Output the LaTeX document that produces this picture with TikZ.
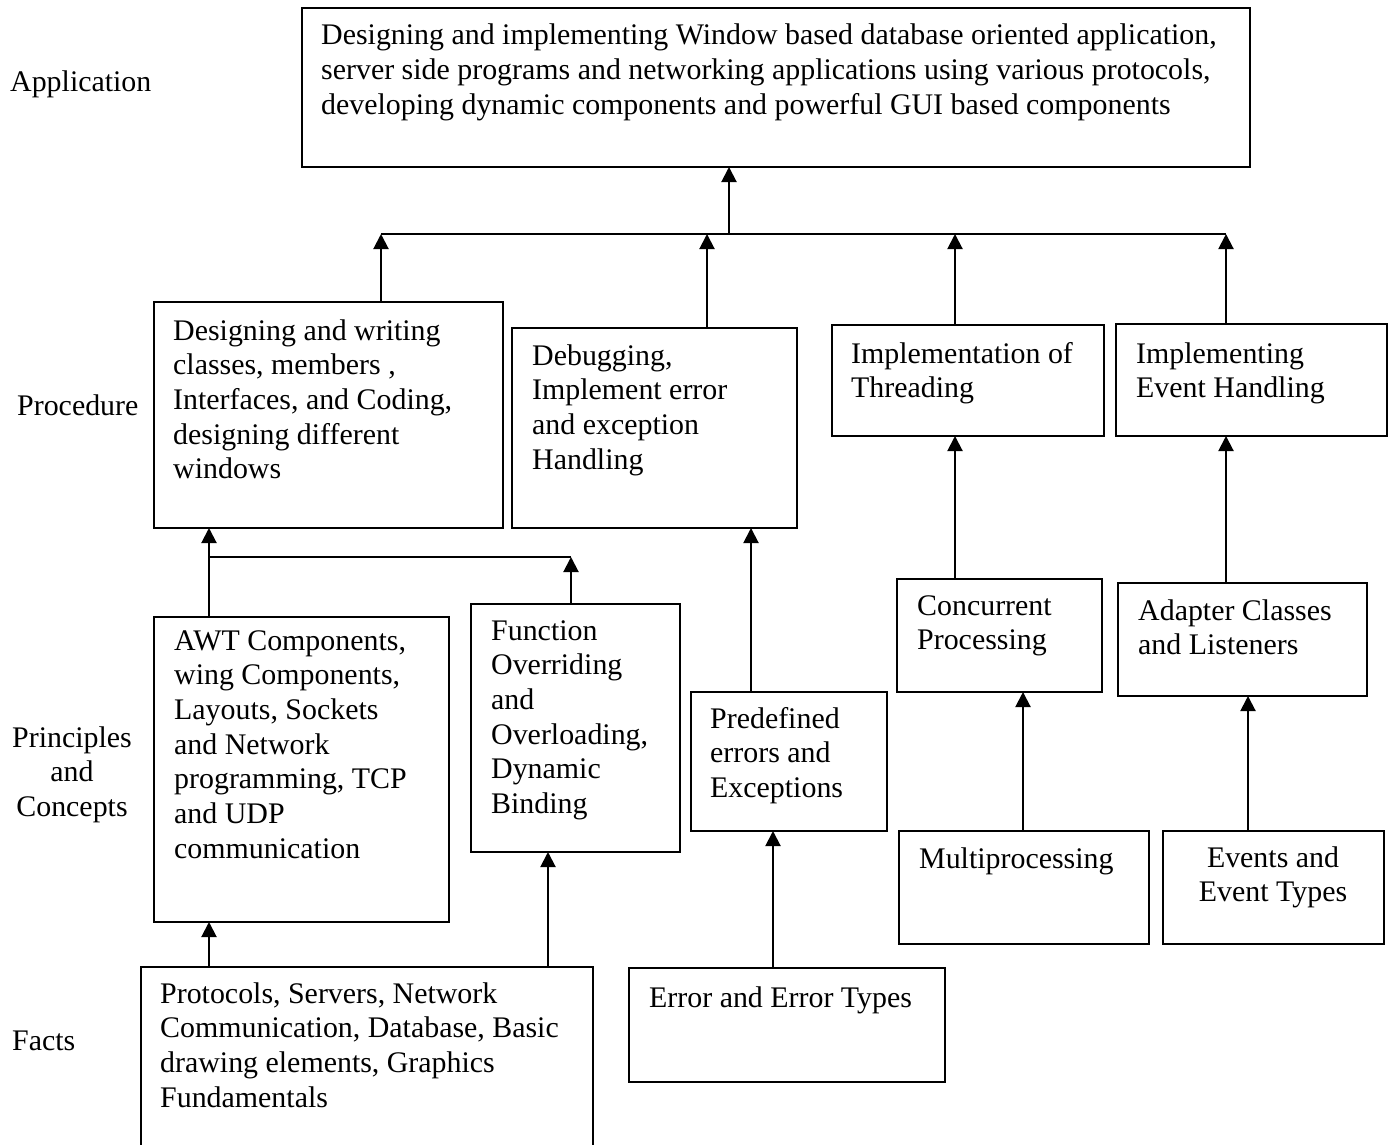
\documentclass[tikz,border=0pt]{standalone}
\usepackage{fontspec}
\setmainfont{Liberation Serif}
\usetikzlibrary{arrows.meta}
\newcommand\mkbox[5]{\node[bx, minimum width={#4-#2}, minimum height={#5-#3}] (#1) at ({(#2+#4)/2},{(#3+#5)/2}) {};}
\newcommand\lns[1]{\begin{tabular}[t]{@{}l@{}}#1\end{tabular}}
\newcommand\clns[1]{\begin{tabular}[t]{@{}c@{}}#1\end{tabular}}
\begin{document}
\begin{tikzpicture}[x=1pt,y=-1pt,
  bx/.style={draw, line width=2pt, inner sep=0pt, outer sep=0pt},
  txt/.style={anchor=base west, inner sep=0pt, font=\fontsize{29.9}{34.7}\selectfont},
  ctxt/.style={txt, anchor=base},
  ln/.style={line width=2pt},
  arr/.style={line width=2pt, -{Triangle[width=15pt,length=15pt]}}]
\useasboundingbox (0,0) rectangle (1392,1145);
\clip (0,0) rectangle (1392,1145);

% level labels
\node[txt] (lapp) at (10,92) {Application};
\node[txt] (lproc) at (17,415) {Procedure};
\node[ctxt] (lprin) at (72,747) {\clns{Principles\\ and\\ Concepts}};
\node[txt] (lfact) at (12,1050) {Facts};

% application
\mkbox{app}{302}{8}{1250}{167}
\node[txt] (tapp) at (321,45) {\lns{Designing and implementing Window based database oriented application,\\ server side programs and networking applications using various protocols,\\ developing dynamic components and powerful GUI based components}};

% procedure
\mkbox{p1}{154}{302}{503}{528}
\node[txt] (tp1) at (173,340) {\lns{Designing and writing\\ classes, members ,\\ Interfaces, and Coding,\\ designing different\\ windows}};
\mkbox{p2}{512}{328}{797}{528}
\node[txt] (tp2) at (532,365) {\lns{Debugging,\\ Implement error\\ and exception\\ Handling}};
\mkbox{p3}{832}{325}{1104}{436}
\node[txt] (tp3) at (851,363) {\lns{Implementation of\\ Threading}};
\mkbox{p4}{1116}{324}{1387}{436}
\node[txt] (tp4) at (1136,363) {\lns{Implementing\\ Event Handling}};

% principles and concepts
\mkbox{c1}{154}{617}{449}{922}
\node[txt] (tc1) at (174,650) {\lns{AWT Components,\\ wing Components,\\ Layouts, Sockets\\ and Network\\ programming, TCP\\ and UDP\\ communication}};
\mkbox{c2}{471}{604}{680}{852}
\node[txt] (tc2) at (491,640) {\lns{Function\\ Overriding\\ and\\ Overloading,\\ Dynamic\\ Binding}};
\mkbox{c3}{691}{692}{887}{831}
\node[txt] (tc3) at (710,728) {\lns{Predefined\\ errors and\\ Exceptions}};
\mkbox{c4}{897}{579}{1102}{692}
\node[txt] (tc4) at (917,615) {\lns{Concurrent\\ Processing}};
\mkbox{c5}{1118}{583}{1367}{696}
\node[txt] (tc5) at (1138,620) {\lns{Adapter Classes\\ and Listeners}};

% facts
\node[inner sep=0pt, outer sep=0pt, minimum width=452, minimum height=185] (f1) at (367,1059.5) {};
\draw[ln] (f1.south west) -- (f1.north west) -- (f1.north east) -- (f1.south east);
\node[txt] (tf1) at (160,1003) {\lns{Protocols, Servers, Network\\ Communication, Database, Basic\\ drawing elements, Graphics\\ Fundamentals}};
\mkbox{f2}{629}{968}{945}{1082}
\node[txt] (tf2) at (649,1007) {Error and Error Types};
\mkbox{f3}{899}{831}{1149}{944}
\node[txt] (tf3) at (919,868) {Multiprocessing};
\mkbox{f4}{1163}{831}{1384}{944}
\node[ctxt] (tf4) at (1273,867) {\clns{Events and\\ Event Types}};

% connector coordinates
\coordinate (bl) at (381,234);
\coordinate (bt) at (729,234);
\coordinate (x2) at (707,234);
\coordinate (x3) at (955,234);
\coordinate (br) at (1226,234);
\coordinate (b2l) at (209,557);
\coordinate (b2r) at (571,557);
\coordinate (x5) at (751,0);
\coordinate (x6) at (548,0);
\coordinate (x7) at (773,0);
\coordinate (x8) at (1023,0);
\coordinate (x9) at (1248,0);

% top level
\draw[ln] (bl) -- (br);
\draw[arr] (bt) -- (app.south -| bt);
\draw[arr] (p1.north -| bl) -- (bl);
\draw[arr] (p2.north -| x2) -- (x2);
\draw[arr] (p3.north -| x3) -- (x3);
\draw[arr] (p4.north -| br) -- (br);

% concepts to procedures
\draw[ln] (b2l) -- (b2r);
\draw[arr] (c1.north -| b2l) -- (p1.south -| b2l);
\draw[arr] (c2.north -| b2r) -- (b2r);
\draw[arr] (c3.north -| x5) -- (p2.south -| x5);
\draw[arr] (c4.north -| x3) -- (p3.south -| x3);
\draw[arr] (c5.north -| br) -- (p4.south -| br);

% facts to concepts
\draw[arr] (f1.north -| b2l) -- (c1.south -| b2l);
\draw[arr] (f1.north -| x6) -- (c2.south -| x6);
\draw[arr] (f2.north -| x7) -- (c3.south -| x7);
\draw[arr] (f3.north -| x8) -- (c4.south -| x8);
\draw[arr] (f4.north -| x9) -- (c5.south -| x9);
\end{tikzpicture}
\end{document}
